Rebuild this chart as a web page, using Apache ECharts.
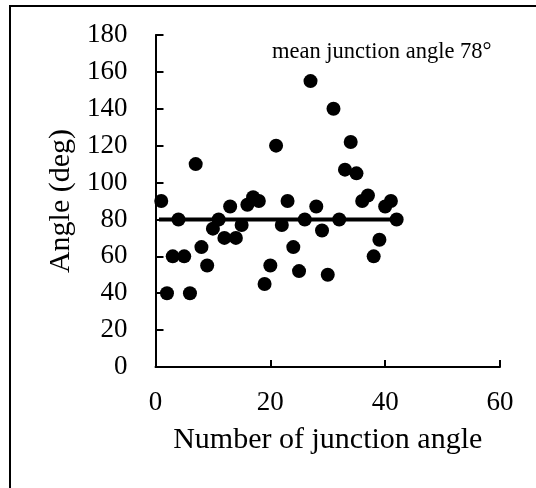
<!DOCTYPE html>
<html>
<head>
<meta charset="utf-8">
<title>Junction angle</title>
<script src="https://cdn.jsdelivr.net/npm/echarts@6/dist/echarts.min.js"></script>
<style>
  html, body { margin: 0; padding: 0; background: #fff; }
  #chart { width: 536px; height: 488px; }
</style>
</head>
<body>
<div id="chart"></div>
<script>
// number of each junction angle (x) and its angle in degrees (y)
const junctionNo = [1, 2, 3, 4, 5, 6, 7, 8, 9, 10, 11, 12, 13, 14, 15, 16, 17, 18, 19, 20, 21,
  22, 23, 24, 25, 26, 27, 28, 29, 30, 31, 32, 33, 34, 35, 36, 37, 38, 39, 40, 41, 42];
const angleDeg = [90, 40, 60, 80, 60, 40, 110, 65, 55, 75, 80, 70, 87, 70, 77, 88, 92, 90, 45, 55, 120,
  77, 90, 65, 52, 80, 155, 87, 74, 50, 140, 80, 107, 122, 105, 90, 93, 60, 69, 87, 90, 80];
// mean line drawn across the points
const meanX = [0.6, 42];
const meanY = [80, 80];
const meanLabel = 'mean junction angle 78°';

const font = 'Liberation Serif';
const chart = echarts.init(document.getElementById('chart'));

chart.setOption({
  backgroundColor: '#fff',
  animation: false,
  grid: { left: 155.5, right: 36, top: 35, bottom: 121 },
  xAxis: {
    type: 'value',
    min: 0,
    max: 60,
    interval: 20,
    name: 'Number of junction angle',
    nameLocation: 'middle',
    nameGap: 58,
    nameTextStyle: { fontFamily: font, fontSize: 30, color: '#000' },
    axisLine: { lineStyle: { color: '#000', width: 2 } },
    axisTick: { inside: true, length: 7, lineStyle: { color: '#000', width: 2 } },
    axisLabel: { fontFamily: font, fontSize: 27, color: '#000', margin: 22 },
    splitLine: { show: false }
  },
  yAxis: {
    type: 'value',
    min: 0,
    max: 180,
    interval: 20,
    name: 'Angle (deg)',
    nameLocation: 'middle',
    nameGap: 78,
    nameTextStyle: { fontFamily: font, fontSize: 30, color: '#000' },
    axisLine: { show: true, lineStyle: { color: '#000', width: 2 } },
    axisTick: { show: true, inside: true, length: 8, lineStyle: { color: '#000', width: 2 } },
    axisLabel: { fontFamily: font, fontSize: 27, color: '#000', margin: 28 },
    splitLine: { show: false }
  },
  graphic: [
    {
      type: 'rect',
      shape: { x: 10, y: 6, width: 600, height: 600 },
      style: { fill: 'none', stroke: '#000', lineWidth: 2 }
    },
    {
      type: 'text',
      left: 272,
      top: 41,
      style: { text: meanLabel, fontFamily: font, fontSize: 22.5, fill: '#000' }
    }
  ],
  series: [
    {
      type: 'scatter',
      symbol: 'circle',
      symbolSize: 14,
      itemStyle: { color: '#000', opacity: 1 },
      data: junctionNo.map((x, i) => [x, angleDeg[i]])
    },
    {
      type: 'line',
      showSymbol: false,
      symbol: 'none',
      lineStyle: { color: '#000', width: 4 },
      data: meanX.map((x, i) => [x, meanY[i]])
    }
  ]
});
</script>
</body>
</html>
